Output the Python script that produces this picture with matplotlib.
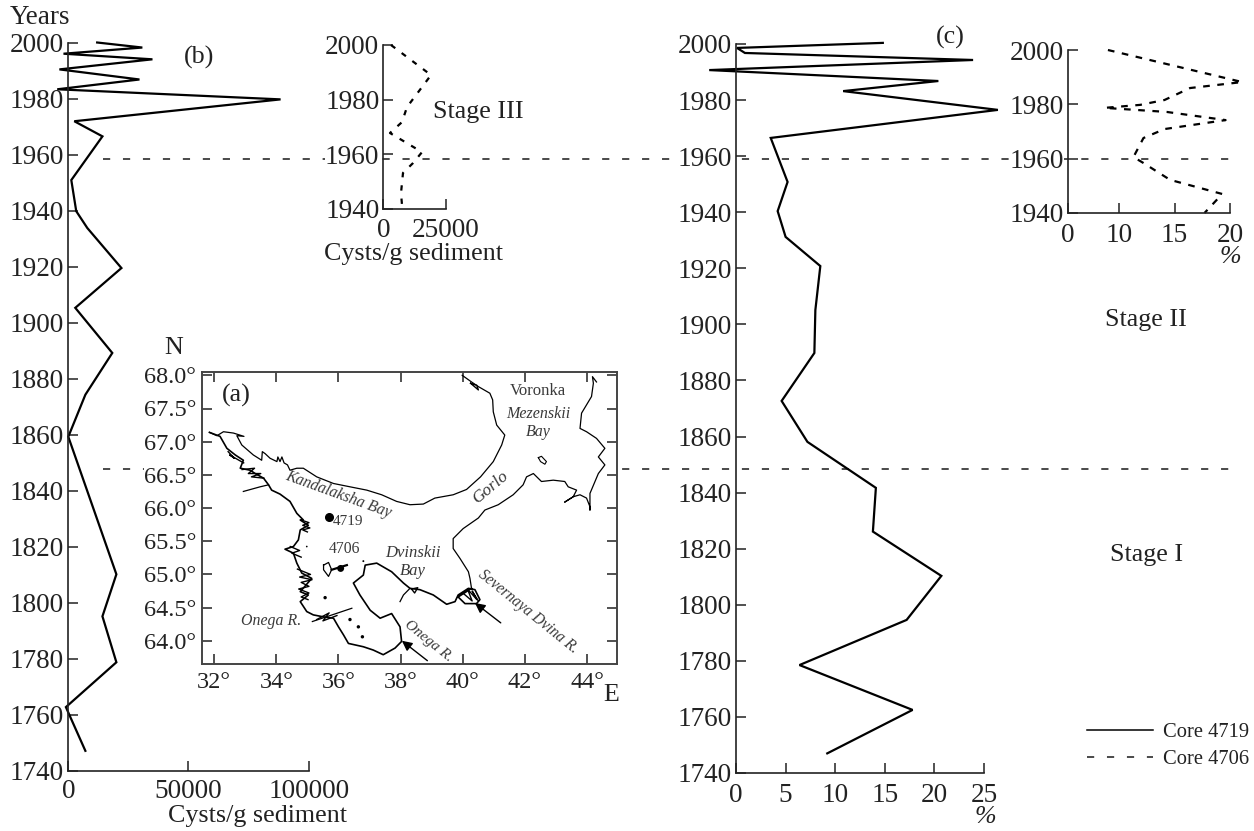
import matplotlib
matplotlib.use('Agg')
import matplotlib.pyplot as plt
from matplotlib.transforms import blended_transform_factory

plt.rcParams['font.family'] = ['Liberation Serif', 'DejaVu Serif']
plt.rcParams['text.color'] = '#222222'
plt.rcParams['axes.edgecolor'] = '#222222'
plt.rcParams['xtick.color'] = '#222222'
plt.rcParams['ytick.color'] = '#222222'

W, H = 1254, 831
FS = 18.7
TICK_FS = 19.6
MAP_GRAY = '#3a3a3a'

# panel (b) core 4719 cysts/g
b_cysts = [12000, 30800, -2000, 35000, -3700, 29600, -4600, 88300, 2500, 14200, 1250, 3300, 7900,
           22100, 2900, 18300, 7100, 0, 20000, 14200, 20000, -1000, 7100]
b_years = [2000, 1998.2, 1996, 1994, 1990.4, 1986.8, 1983.3, 1979.7, 1971.9, 1966.5, 1950.9, 1939.8, 1933.8,
           1919.5, 1905.3, 1889.2, 1874.3, 1859.3, 1810.2, 1795.2, 1778.8, 1762.8, 1747.2]

# panel (c) core 4719 %
c_pct = [14.8, 0.1, 0.9, 23.9, -2.7, 20.4, 10.8, 26.4, 3.5, 5.2, 4.2, 5.0, 8.5, 8.0, 7.9, 4.6, 7.2,
         14.1, 13.8, 20.7, 17.2, 6.4, 17.8, 9.2]
c_years = [2000.4, 1998.6, 1996.8, 1994.3, 1990.7, 1986.8, 1983.2, 1976.5, 1966.5, 1950.8, 1940.4, 1931.2,
           1920.8, 1905.1, 1889.8, 1872.7, 1858.1, 1841.7, 1826.1, 1810.3, 1794.6, 1778.5, 1762.5, 1747]

# inset core 4706
ib_cysts = [3000, 19000, 9400, 7400, 2600, 15400, 11800, 7800, 7000, 7400]
ib_years = [2000, 1989, 1977.3, 1971.8, 1967.8, 1960.8, 1956.8, 1953.2, 1945.8, 1941.5]
ic_pct = [9.0, 21.1, 16.4, 14.1, 11.9, 8.7, 14.3, 19.6, 14.1, 12.2, 11.3, 12.2, 14.6, 19.3, 17.7]
ic_years = [2000, 1988.2, 1986, 1981.6, 1979.8, 1978.7, 1977.2, 1974.2, 1970.9, 1967.6, 1960.6, 1958.4,
            1952.2, 1947, 1940]

stage_years = [1958.3, 1847.7]
stage_right = [1240, 1230]

# map outlines (lon, lat)
north_lon = [31.85, 32.09, 32.30, 32.62, 32.96, 32.73, 32.89, 33.26, 33.53, 33.55, 33.64, 33.80, 34.02, 34.05,
             34.12, 34.18, 34.25, 34.36, 34.44, 34.66, 34.87, 35.30, 35.84, 36.37, 36.91, 37.39, 37.87, 38.30,
             38.73, 39.10, 39.69, 40.12, 40.57, 40.98, 41.25, 41.35, 41.09, 40.98, 40.96, 40.87, 40.50, 40.28, 39.98]
north_lat = [67.14, 67.09, 67.15, 67.13, 67.08, 67.09, 66.95, 66.80, 66.72, 66.85, 66.82, 66.75, 66.70, 66.77,
             66.70, 66.77, 66.68, 66.65, 66.57, 66.60, 66.60, 66.47, 66.37, 66.32, 66.27, 66.20, 66.10, 66.05,
             66.06, 66.15, 66.20, 66.28, 66.47, 66.70, 66.95, 67.10, 67.25, 67.45, 67.63, 67.73, 67.83, 67.90, 68.00]

west_lon = [31.85, 32.19, 32.41, 32.68, 32.94, 32.84, 33.16, 33.32, 33.59, 33.75, 33.85, 34.12, 34.44, 34.66,
            34.87, 34.77, 35.03, 34.77, 34.71, 34.55, 34.28, 34.55, 34.66, 34.82, 35.14, 34.77, 35.03, 34.77,
            34.98, 35.19, 35.52, 35.84, 36.0, 36.16, 36.32, 36.80, 37.12, 37.44, 37.82, 38.03, 37.98, 37.71,
            37.34, 37.02, 36.69, 36.48, 36.80, 36.86, 37.23, 37.71, 38.09, 38.30, 38.62, 39.05, 39.48, 39.75,
            39.85, 40.18, 40.39, 40.55, 40.44, 40.07, 39.85, 40.28]
west_lat = [67.14, 67.08, 66.90, 66.80, 66.72, 66.60, 66.57, 66.52, 66.45, 66.35, 66.27, 66.21, 66.10, 65.92,
            65.82, 65.82, 65.74, 65.67, 65.52, 65.42, 65.38, 65.32, 65.17, 65.02, 64.94, 64.74, 64.69, 64.59,
            64.44, 64.39, 64.36, 64.34, 64.21, 64.09, 63.96, 63.91, 63.86, 63.79, 63.89, 63.99, 64.21, 64.41,
            64.34, 64.46, 64.69, 64.87, 64.99, 65.14, 65.17, 65.04, 64.87, 64.79, 64.77, 64.69, 64.55, 64.59,
            64.69, 64.79, 64.77, 64.62, 64.56, 64.56, 64.66, 64.79]

east_lon = [40.28, 40.23, 40.18, 39.91, 39.69, 39.69, 40.01, 40.50, 40.71, 41.14, 41.62, 41.94, 42.05, 42.27,
            42.53, 42.91, 43.28, 43.39, 43.66, 43.55, 43.28, 43.55, 43.77, 43.98, 44.09, 44.09, 44.09, 44.36,
            44.57, 44.36, 44.57, 44.30, 43.98, 43.77, 43.82, 44.14, 44.20, 44.17, 44.30]
east_lat = [64.79, 64.94, 65.04, 65.24, 65.39, 65.54, 65.69, 65.85, 65.97, 66.05, 66.20, 66.35, 66.47, 66.52,
            66.40, 66.42, 66.40, 66.32, 66.27, 66.17, 66.09, 66.17, 66.20, 66.15, 66.02, 65.97, 66.22, 66.52,
            66.65, 66.77, 66.90, 67.05, 67.15, 67.20, 67.43, 67.68, 67.88, 67.98, 67.90]

spur_lons = [[32.94, 33.48, 33.75], [35.16, 36.43], [37.98, 38.09, 38.30]]
spur_lats = [[66.25, 66.32, 66.35], [64.29, 64.49], [64.59, 64.69, 64.79]]

# rough skerry clusters along the broken coast
skerry_lons = [[32.90, 33.30, 33.10, 33.50, 33.20, 33.60],
               [34.80, 35.05, 34.85, 35.08, 34.85, 35.00],
               [34.68, 35.10, 34.75, 35.15, 34.80, 35.05, 34.72, 35.05, 34.80, 35.02],
               [35.30, 35.70, 35.50, 35.95],
               [40.00, 40.30, 40.15, 40.45, 40.30, 40.50],
               [32.45, 32.65, 32.50, 32.95],
               [40.25, 40.50, 40.45, 40.25],
               [38.35, 38.55, 38.45, 38.35],
               [34.45, 34.75, 34.50, 34.80]]
skerry_lats = [[66.58, 66.60, 66.52, 66.52, 66.47, 66.45],
               [65.82, 65.78, 65.74, 65.70, 65.67, 65.64],
               [65.08, 65.00, 64.96, 64.92, 64.88, 64.82, 64.78, 64.72, 64.66, 64.62],
               [64.32, 64.42, 64.30, 64.38],
               [64.72, 64.60, 64.78, 64.62, 64.75, 64.60],
               [66.85, 66.75, 66.80, 66.68],
               [67.88, 67.78, 67.85, 67.88],
               [64.78, 64.80, 64.72, 64.78],
               [65.42, 65.36, 65.32, 65.26]]

island_lon = [42.43, 42.53, 42.69, 42.64, 42.50, 42.43]
island_lat = [66.76, 66.78, 66.70, 66.66, 66.70, 66.76]
solov_lon = [35.52, 35.68, 35.78, 35.68, 35.52, 35.52]
solov_lat = [65.14, 65.18, 65.07, 64.97, 65.07, 65.14]
solov_bar_lon = [35.78, 36.27]
solov_bar_lat = [65.07, 65.14]
speck_lon = [35.57, 36.37, 36.64, 36.77, 34.98, 36.80, 36.07]
speck_lat = [64.65, 64.32, 64.21, 64.06, 65.42, 65.20, 65.09]
speck_size = [6, 6, 6, 6, 1.5, 2, 25]

core_lon, core_lat = 35.70, 65.86

map_xticks = [32, 34, 36, 38, 40, 42, 44]
map_yticks = [64.0, 64.5, 65.0, 65.5, 66.0, 66.5, 67.0, 67.5, 68.0]


def panel(left, top, right, bottom):
    return fig.add_axes([left / W, 1 - bottom / H, (right - left) / W, (bottom - top) / H])


def style(ax, xt, yt, xlabels=None, boxed=None, xpad=3):
    ax.patch.set_visible(False)
    ax.spines['top'].set_visible(False)
    ax.spines['right'].set_visible(False)
    ax.spines['left'].set_linewidth(1.2)
    ax.spines['bottom'].set_linewidth(1.2)
    ax.set_xticks(xt)
    ax.set_yticks(yt)
    if xlabels:
        ax.set_xticklabels(xlabels)
    ax.tick_params(direction='in', length=7.2, width=1.1, labelsize=TICK_FS, pad=3)
    ax.tick_params(axis='x', pad=xpad)
    if boxed:
        # keep the dashed stage line from running through this label
        for t in ax.get_yticklabels():
            if t.get_text() == boxed:
                t.set_bbox(dict(fc='white', ec='none', pad=0))


fig = plt.figure(figsize=(W / 100, H / 100), dpi=100)

# --- panel b ---
ax_b = panel(68.3, 42.5, 308.7, 771)
ax_b.set_xlim(0, 100000)
ax_b.set_ylim(1740, 2000)
ax_b.plot(b_cysts, b_years, color='black', lw=1.6, clip_on=False, solid_joinstyle='miter')
style(ax_b, [0, 50000, 100000], list(range(1740, 2001, 20)), xpad=6)

# stage boundaries cross the whole figure
tr = blended_transform_factory(fig.transFigure, ax_b.transData)
for yr, xr in zip(stage_years, stage_right):
    ax_b.plot([103 / W, xr / W], [yr, yr], transform=tr, color='#222222', lw=1.15,
              ls=(0, (4.5, 8)), clip_on=False)

# --- panel c ---
ax_c = panel(736, 44, 984, 773)
ax_c.set_xlim(0, 25)
ax_c.set_ylim(1740, 2000)
ax_c.plot(c_pct, c_years, color='black', lw=1.6, clip_on=False, solid_joinstyle='miter')
style(ax_c, [0, 5, 10, 15, 20, 25], list(range(1740, 2001, 20)), boxed='1960', xpad=7)

# --- insets ---
ax_ib = panel(383.5, 45, 446, 209)
ax_ib.set_xlim(0, 25000)
ax_ib.set_ylim(1940, 2000)
ax_ib.plot(ib_cysts, ib_years, color='black', lw=1.6, ls=(0, (2.4, 3.6)), clip_on=False)
style(ax_ib, [0, 25000], [1940, 1960, 1980, 2000], boxed='1960', xpad=6.5)

ax_ic = panel(1068, 50, 1230, 213)
ax_ic.set_xlim(5.4, 20)
ax_ic.set_ylim(1940, 2000)
ax_ic.plot(ic_pct, ic_years, color='black', lw=1.6, ls=(0, (3, 3.4)), clip_on=False)
style(ax_ic, [5.4, 10, 15, 20], [1940, 1960, 1980, 2000], xlabels=['0', '10', '15', '20'],
      boxed='1960', xpad=7)

# --- map ---
ax_m = panel(201.7, 372, 617, 664)
ax_m.set_xlim(31.6, 44.96)
ax_m.set_ylim(63.65, 68.05)
ax_m.set_zorder(3)
for s in ax_m.spines.values():
    s.set_linewidth(1.4)
    s.set_color('#444444')
ax_m.set_xticks(map_xticks)
ax_m.set_xticklabels([f'{v}°' for v in map_xticks])
ax_m.set_yticks(map_yticks)
ax_m.set_yticklabels([f'{v:.1f}°' for v in map_yticks])
ax_m.tick_params(direction='in', length=7.2, width=1.1, labelsize=17.5, top=True, right=True, pad=4)
ax_m.tick_params(axis='x', pad=6)
for t in ax_m.get_yticklabels():
    t.set_bbox(dict(fc='white', ec='none', pad=0))

ax_m.plot(north_lon, north_lat, color='black', lw=0.9)
ax_m.plot(west_lon, west_lat, color='black', lw=1.2)
ax_m.plot(east_lon, east_lat, color='black', lw=0.9)
for lo, la in zip(spur_lons, spur_lats):
    ax_m.plot(lo, la, color='black', lw=0.9)
for lo, la in zip(skerry_lons, skerry_lats):
    ax_m.plot(lo, la, color='black', lw=1.0)
ax_m.plot(island_lon, island_lat, color='black', lw=0.8)
ax_m.plot(solov_lon, solov_lat, color='black', lw=0.9)
ax_m.plot(solov_bar_lon, solov_bar_lat, color='black', lw=1.6)
ax_m.scatter(speck_lon, speck_lat, s=speck_size, color='black', lw=0)
ax_m.plot([core_lon], [core_lat], 'o', color='black', ms=5.5)

for xy, xytext in [((40.39, 64.57), (41.22, 64.27)), ((38.04, 64.0), (38.86, 63.70))]:
    ax_m.annotate('', xy=xy, xytext=xytext,
                  arrowprops=dict(arrowstyle='-|>', color='black', lw=1.0, mutation_scale=15, shrinkA=0, shrinkB=0))

ax_m.text(32.71, 67.69, '(a)', fontsize=FS, ha='center', va='center')
ax_m.text(42.42, 67.77, 'Voronka', fontsize=12, color=MAP_GRAY, ha='center', va='center')
ax_m.text(42.42, 67.28, 'Mezenskii\nBay', fontsize=11.5, color=MAP_GRAY, style='italic', ha='center', va='center')
ax_m.text(35.99, 66.2, 'Kandalaksha Bay', fontsize=11.3, color=MAP_GRAY, style='italic', ha='center', va='center', rotation=-20)
ax_m.text(40.9, 66.31, 'Gorlo', fontsize=12.5, color=MAP_GRAY, style='italic', ha='center', va='center', rotation=40)
ax_m.text(36.31, 65.8, '4719', fontsize=11, color=MAP_GRAY, ha='center', va='center')
ax_m.text(36.18, 65.39, '4706', fontsize=11.3, color=MAP_GRAY, ha='center', va='center')
ax_m.text(38.40, 65.19, 'Dvinskii\nBay', fontsize=12, color=MAP_GRAY, style='italic', ha='center', va='center')
ax_m.text(33.83, 64.30, 'Onega R.', fontsize=11.4, color=MAP_GRAY, style='italic', ha='center', va='center')
ax_m.text(38.91, 63.99, 'Onega R.', fontsize=11, color=MAP_GRAY, style='italic', ha='center', va='center', rotation=-39)
ax_m.text(42.10, 64.44, 'Severnaya Dvina R.', fontsize=11.2, color=MAP_GRAY, style='italic', ha='center', va='center', rotation=-39)


# --- free text ---
def label(x, y, s, **kw):
    fig.text(x / W, 1 - y / H, s, ha='center', va='center', fontsize=kw.pop('fontsize', FS), **kw)


label(40, 18, 'Years', fontsize=19.5)
label(199, 57, '(b)')
label(950, 37, '(c)')
label(478, 112, 'Stage III')
label(1146, 320, 'Stage II')
label(1147, 555, 'Stage I')
label(257, 816, 'Cysts/g sediment')
label(414, 254, 'Cysts/g sediment')
label(985, 817, '%', style='italic')
label(1230, 257, '%', style='italic')
label(174, 348, 'N')
label(611, 695, 'E')

# legend
h1, = ax_c.plot([], [], color='black', lw=1.1)
h2, = ax_c.plot([], [], color='#222222', lw=1.15, ls=(0, (4.5, 8)))
fig.legend([h1, h2], ['Core 4719', 'Core 4706'], frameon=False, fontsize=14.8, loc='upper left',
           bbox_to_anchor=(1087 / W, 1 - 723 / H), borderpad=0, borderaxespad=0, handlelength=3.2,
           handletextpad=0.5, labelspacing=0.35)

fig.savefig('out.png', dpi=100)
